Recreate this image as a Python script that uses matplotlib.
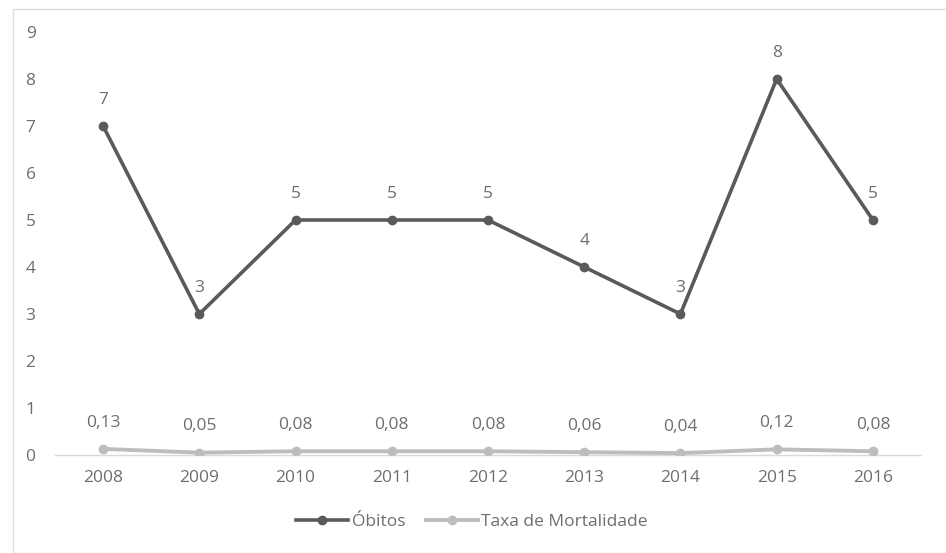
import matplotlib
matplotlib.use("Agg")
import matplotlib.pyplot as plt
from matplotlib.lines import Line2D
from matplotlib.patches import Rectangle

years = ["2008", "2009", "2010", "2011", "2012", "2013", "2014", "2015", "2016"]
obitos = [7, 3, 5, 5, 5, 4, 3, 8, 5]
taxa = [0.13, 0.05, 0.08, 0.08, 0.08, 0.06, 0.04, 0.12, 0.08]
y_ticks = list(range(0, 10))

plt.rcParams["font.family"] = ["Open Sans", "DejaVu Sans"]
text_color = "#6e6e6e"
dark = "#5a5a5a"
light = "#bdbdbd"
fs = 12.5

fig = plt.figure(figsize=(9.46, 5.53), dpi=100)
fig.patches.append(Rectangle((13 / 946, 0), 1, 1 - 9 / 553, transform=fig.transFigure,
                             fill=False, edgecolor="#dcdcdc", linewidth=1.0, zorder=0))
ax = fig.add_axes([55 / 946, 1 - 455 / 553, 866 / 946, 423 / 553])

x = list(range(len(years)))
ax.plot(x, taxa, color=light, linewidth=2.8, marker="o", markersize=6,
        solid_capstyle="round", zorder=3)
ax.plot(x, obitos, color=dark, linewidth=2.6, marker="o", markersize=6,
        solid_capstyle="round", zorder=4)

for xi, v in zip(x, obitos):
    ax.annotate(str(v), (xi, v), xytext=(0, 19), textcoords="offset points",
                ha="center", va="center", fontsize=fs, color=text_color)
for xi, v in zip(x, taxa):
    ax.annotate(f"{v:.2f}".replace(".", ","), (xi, v), xytext=(0, 19),
                textcoords="offset points", ha="center", va="center",
                fontsize=fs, color=text_color)

ax.set_xlim(-0.5, len(years) - 0.5)
ax.set_ylim(0, 9)
ax.set_yticks(y_ticks)
ax.set_xticks(x)
ax.set_xticklabels(years)
for s in ["top", "right", "left"]:
    ax.spines[s].set_visible(False)
ax.spines["bottom"].set_color("#d9d9d9")
ax.spines["bottom"].set_linewidth(1.0)
ax.tick_params(axis="both", length=0, labelsize=fs, colors=text_color)
ax.tick_params(axis="y", pad=14)
ax.tick_params(axis="x", pad=11)

handles = [
    Line2D([0], [0], color=dark, linewidth=2.6, marker="o", markersize=6),
    Line2D([0], [0], color=light, linewidth=2.8, marker="o", markersize=6),
]
fig.legend(handles, ["Óbitos", "Taxa de Mortalidade"], loc="center",
           bbox_to_anchor=(472 / 946, 1 - 522 / 553), ncol=2, frameon=False,
           fontsize=fs, labelcolor=text_color, handlelength=3.0,
           handletextpad=0.2, columnspacing=1.2)

fig.savefig("out.png", dpi=100)
